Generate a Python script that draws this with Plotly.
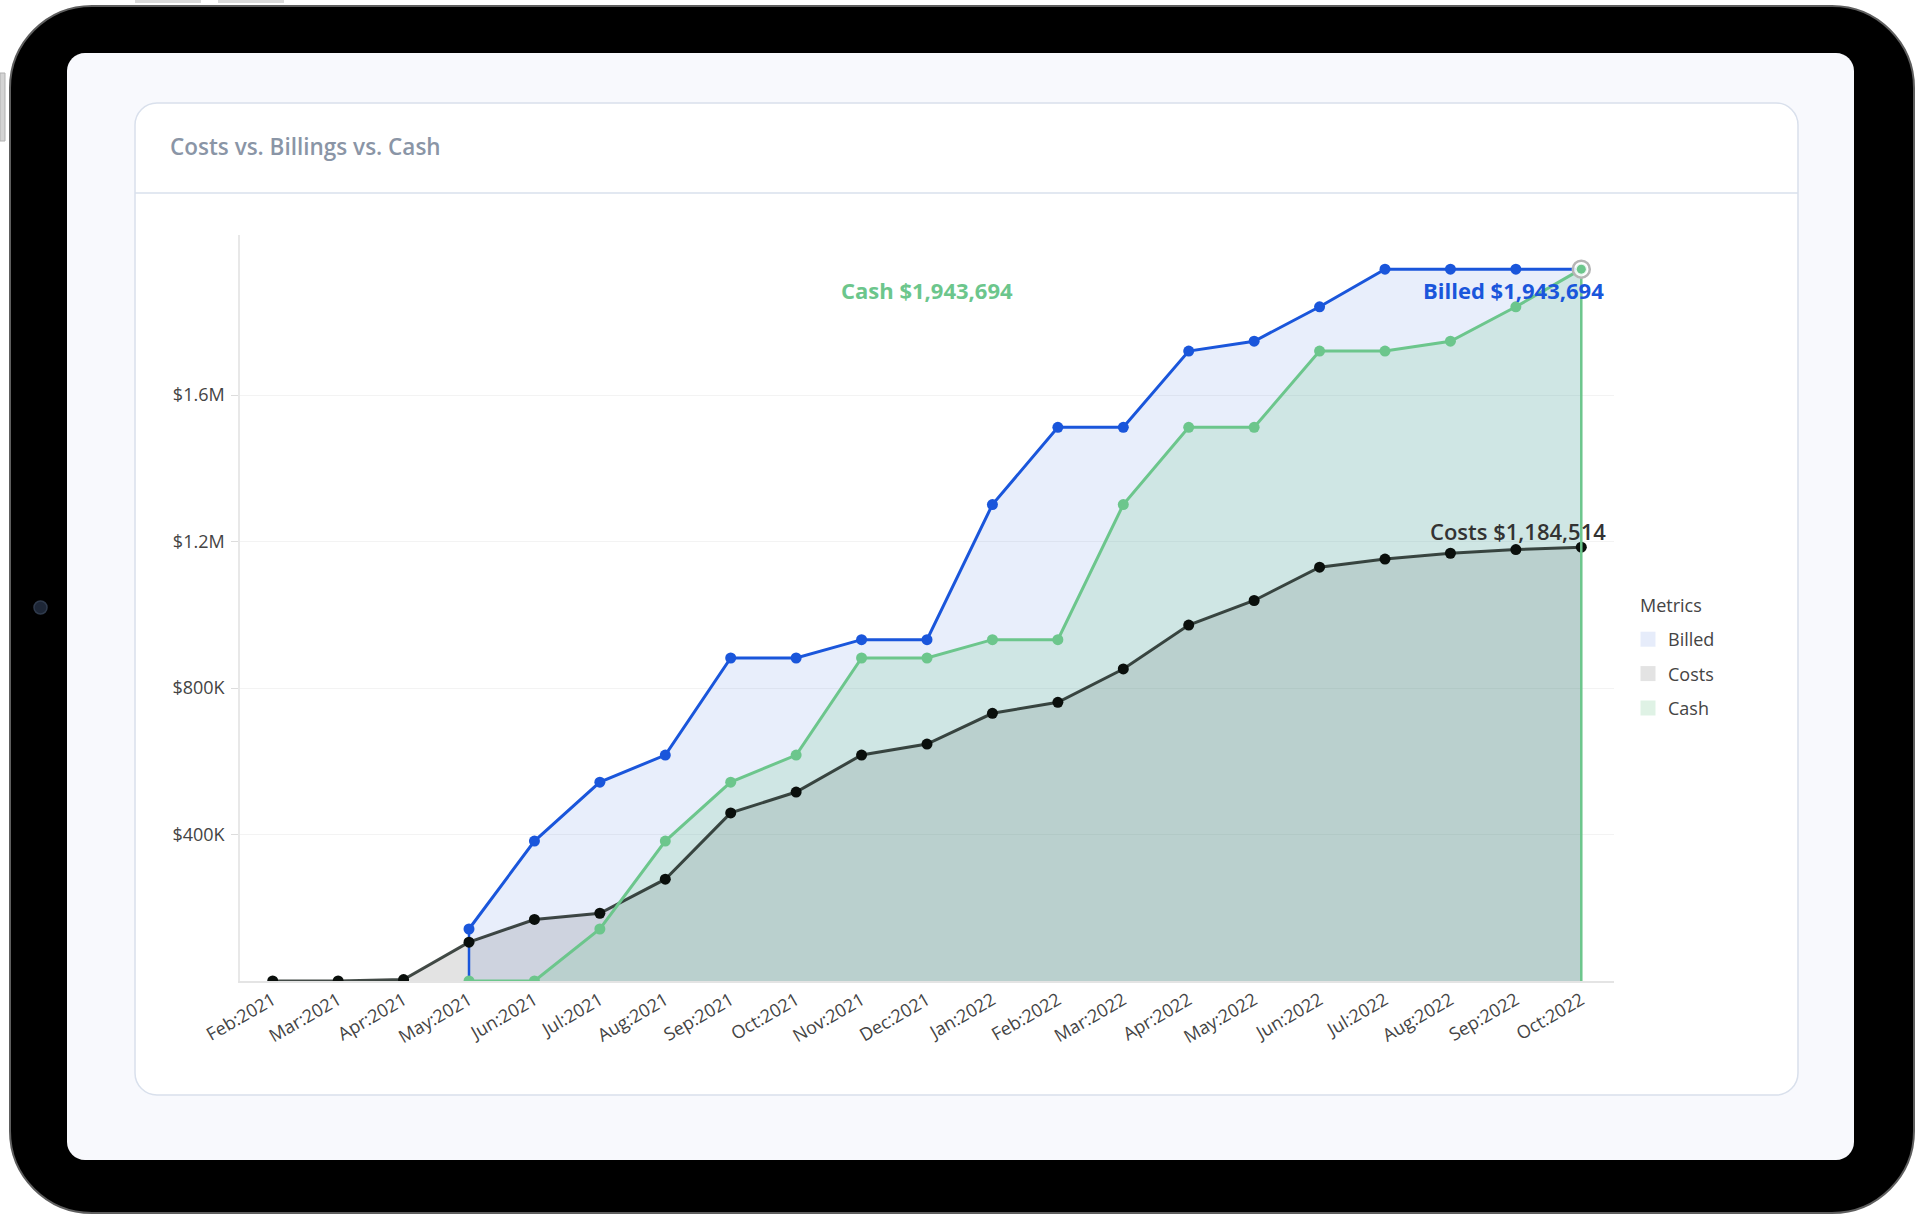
import plotly.graph_objects as go

W, H = 1920, 1217

MONTHS = ["Feb:2021", "Mar:2021", "Apr:2021", "May:2021", "Jun:2021", "Jul:2021",
          "Aug:2021", "Sep:2021", "Oct:2021", "Nov:2021", "Dec:2021", "Jan:2022",
          "Feb:2022", "Mar:2022", "Apr:2022", "May:2022", "Jun:2022", "Jul:2022",
          "Aug:2022", "Sep:2022", "Oct:2022"]

billed = [None, None, None, 142000, 382000, 543000, 617000, 882000, 882000, 932000,
          932000, 1301000, 1512000, 1512000, 1720000, 1747000, 1841000, 1943694,
          1943694, 1943694, 1943694]
costs = [0, 0, 4000, 106000, 168000, 185000, 278000, 459000, 516000, 617000, 647000,
         731000, 761000, 852000, 972000, 1039000, 1130000, 1152000, 1168000, 1178000,
         1184514]
cash = [None, None, None, 0, 0, 142000, 382000, 543000, 617000, 882000, 882000,
        932000, 932000, 1301000, 1512000, 1512000, 1720000, 1720000, 1747000, 1841000,
        1943694]

y_tickvals = [400000, 800000, 1200000, 1600000]
y_ticktext = ["$400K", "$800K", "$1.2M", "$1.6M"]

BLUE = "#1a56db"
GREEN = "#6cc68c"
DARK = "rgba(20,30,25,0.8)"
FONT = "Open Sans"


def px(x):
    return x / W


def py(y):
    return 1 - y / H


def rrect(x0, y0, x1, y1, r):
    # rounded rectangle path in paper coords, built from pixel positions
    k = 0.4477 * r
    p = [
        f"M {px(x0 + r)},{py(y0)}",
        f"L {px(x1 - r)},{py(y0)}",
        f"C {px(x1 - k)},{py(y0)} {px(x1)},{py(y0 + k)} {px(x1)},{py(y0 + r)}",
        f"L {px(x1)},{py(y1 - r)}",
        f"C {px(x1)},{py(y1 - k)} {px(x1 - k)},{py(y1)} {px(x1 - r)},{py(y1)}",
        f"L {px(x0 + r)},{py(y1)}",
        f"C {px(x0 + k)},{py(y1)} {px(x0)},{py(y1 - k)} {px(x0)},{py(y1 - r)}",
        f"L {px(x0)},{py(y0 + r)}",
        f"C {px(x0)},{py(y0 + k)} {px(x0 + k)},{py(y0)} {px(x0 + r)},{py(y0)}",
        "Z",
    ]
    return " ".join(p)


fig = go.Figure()

# filled areas
fig.add_trace(go.Scatter(x=MONTHS, y=billed, mode="none", fill="tozeroy",
                         fillcolor="rgba(26,86,219,0.10)", showlegend=False, hoverinfo="skip"))
fig.add_trace(go.Scatter(x=MONTHS, y=costs, mode="none", fill="tozeroy",
                         fillcolor="rgba(0,0,0,0.11)", showlegend=False, hoverinfo="skip"))
fig.add_trace(go.Scatter(x=MONTHS, y=cash, mode="none", fill="tozeroy",
                         fillcolor="rgba(108,198,140,0.20)", showlegend=False, hoverinfo="skip"))

# edge of the billed area where it starts
first_b = next(i for i, v in enumerate(billed) if v is not None)
fig.add_trace(go.Scatter(x=[MONTHS[first_b]] * 2, y=[0, billed[first_b]], mode="lines",
                         line=dict(color=BLUE, width=2.5), showlegend=False, hoverinfo="skip"))

# lines with markers
fig.add_trace(go.Scatter(x=MONTHS, y=costs, mode="lines+markers",
                         line=dict(color=DARK, width=3),
                         marker=dict(color="#0a0f0c", size=11),
                         showlegend=False, hoverinfo="skip"))
fig.add_trace(go.Scatter(x=MONTHS, y=billed, mode="lines+markers",
                         line=dict(color=BLUE, width=3),
                         marker=dict(color=BLUE, size=11),
                         showlegend=False, hoverinfo="skip"))
fig.add_trace(go.Scatter(x=MONTHS, y=cash, mode="lines+markers",
                         line=dict(color=GREEN, width=3),
                         marker=dict(color=GREEN, size=11),
                         showlegend=False, hoverinfo="skip"))

# hover spike and highlighted point on the last cash value
fig.add_trace(go.Scatter(x=[MONTHS[-1]] * 2, y=[0, cash[-1]], mode="lines",
                         line=dict(color=GREEN, width=2.5), showlegend=False, hoverinfo="skip"))
fig.add_trace(go.Scatter(x=[MONTHS[-1]], y=[cash[-1]], mode="markers",
                         marker=dict(color="rgba(255,255,255,0.85)", size=17,
                                     line=dict(color="#b5b5b5", width=2.5)),
                         showlegend=False, hoverinfo="skip", cliponaxis=False))
fig.add_trace(go.Scatter(x=[MONTHS[-1]], y=[cash[-1]], mode="markers",
                         marker=dict(color=GREEN, size=9),
                         showlegend=False, hoverinfo="skip", cliponaxis=False))

# legend entries
for name, col in [("Billed", "#e6ecfa"), ("Costs", "#e3e3e3"), ("Cash", "#dff2e5")]:
    fig.add_trace(go.Scatter(x=[None], y=[None], mode="markers", name=name, legendgroup=name,
                             marker=dict(symbol="square", size=15, color=col)))

shapes = [
    # device frame
    dict(type="path", xref="paper", yref="paper", path=rrect(10, 6, 1914, 1213, 82),
         fillcolor="#000000", line=dict(color="#5e5e5e", width=2), layer="below"),
    dict(type="path", xref="paper", yref="paper", path=rrect(67, 53, 1854, 1160, 18),
         fillcolor="#f8f9fd", line=dict(width=0), layer="below"),
    # card
    dict(type="path", xref="paper", yref="paper", path=rrect(135, 103, 1798, 1095, 22),
         fillcolor="#ffffff", line=dict(color="#d9e0ec", width=1.5), layer="below"),
    dict(type="line", xref="paper", yref="paper", x0=px(135), x1=px(1798), y0=py(193), y1=py(193),
         line=dict(color="#d9e0ec", width=1.5), layer="below"),
    # side button, top bars, camera
    dict(type="rect", xref="paper", yref="paper", x0=px(0), x1=px(5), y0=py(73), y1=py(141),
         fillcolor="#d4d4d4", line=dict(color="#b0b0b0", width=1), layer="below"),
    dict(type="rect", xref="paper", yref="paper", x0=px(135), x1=px(201), y0=py(0), y1=py(3),
         fillcolor="#dadada", line=dict(width=0), layer="below"),
    dict(type="rect", xref="paper", yref="paper", x0=px(218), x1=px(284), y0=py(0), y1=py(3),
         fillcolor="#dadada", line=dict(width=0), layer="below"),
    dict(type="circle", xref="paper", yref="paper", x0=px(34), x1=px(47), y0=py(601), y1=py(614),
         fillcolor="#1d2636", line=dict(color="#2f3a4c", width=1.5), layer="below"),
]

annotations = [
    dict(text="Costs vs. Billings vs. Cash", xref="paper", yref="paper", x=px(168), y=py(146),
         xanchor="left", yanchor="middle", showarrow=False,
         font=dict(family=FONT, size=22.5, color="#8a95a6", weight=600)),
    dict(text="Metrics", xref="paper", yref="paper", x=px(1638), y=py(605),
         xanchor="left", yanchor="middle", showarrow=False,
         font=dict(family=FONT, size=18, color="#444444")),
    dict(text=f"Cash ${cash[-1]:,}", xref="x domain", yref="y", x=0.5, y=cash[-1],
         xanchor="center", yanchor="middle", yshift=-21, showarrow=False,
         font=dict(family=FONT, size=22, color=GREEN, weight=700)),
    dict(text=f"Billed ${billed[-1]:,}", xref="x", yref="y", x=MONTHS[-1], y=billed[-1],
         xanchor="right", yanchor="middle", xshift=25, yshift=-21, showarrow=False,
         font=dict(family=FONT, size=22, color=BLUE, weight=700)),
    dict(text=f"Costs ${costs[-1]:,}", xref="x", yref="y", x=MONTHS[-1], y=costs[-1],
         xanchor="right", yanchor="middle", xshift=27, yshift=16, showarrow=False,
         font=dict(family=FONT, size=22, color="#333333", weight=600)),
]

fig.update_layout(
    width=W, height=H,
    margin=dict(l=0, r=0, t=0, b=0, autoexpand=False),
    paper_bgcolor="#ffffff",
    plot_bgcolor="rgba(0,0,0,0)",
    font=dict(family=FONT, size=18, color="#444444"),
    shapes=shapes,
    annotations=annotations,
    showlegend=True,
    legend=dict(
        font=dict(family=FONT, size=18, color="#444444"),
        x=px(1628), y=py(621), xanchor="left", yanchor="top",
        bgcolor="rgba(0,0,0,0)", tracegroupgap=8,
    ),
    xaxis=dict(
        type="category", domain=[px(240), px(1614)], range=[-0.5, 20.5], automargin=False,
        tickangle=-30, showgrid=False, showline=True, linecolor="#e4e4e4", linewidth=1.5,
        ticks="", tickfont=dict(family=FONT, size=18, color="#444444"), zeroline=False,
    ),
    yaxis=dict(
        domain=[py(981), py(235)], range=[0, 2037000], automargin=False,
        tickvals=y_tickvals, ticktext=y_ticktext,
        showgrid=True, gridcolor="#f3f3f3", gridwidth=1,
        showline=True, linecolor="#e8e8e8", linewidth=1.5,
        ticks="outside", ticklen=7, tickcolor="#dddddd", ticklabelstandoff=3,
        tickfont=dict(family=FONT, size=18, color="#444444"), zeroline=False,
    ),
)

fig.write_html("out.html", config={"displayModeBar": False},
               post_script="document.body.style.margin='0';document.body.style.overflow='hidden';")
